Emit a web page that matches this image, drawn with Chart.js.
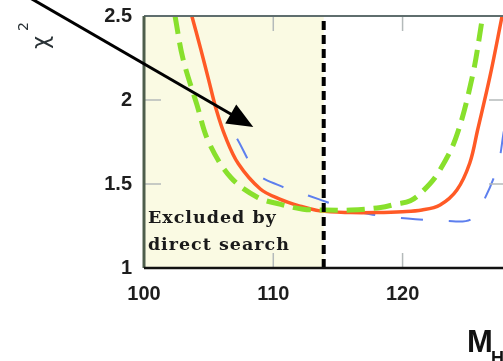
<!DOCTYPE html>
<html>
<head>
<meta charset="utf-8">
<script src="https://cdn.jsdelivr.net/npm/chart.js@4"></script>
<style>
  html, body { margin: 0; padding: 0; background: #fff; overflow: hidden; }
  #wrap { width: 506px; height: 361px; }
</style>
</head>
<body>
<div id="wrap"><canvas id="c"></canvas></div>
<script>
// ---- data ----
const xTickLabels = ["100", "110", "120"];
const yTickLabels = ["1", "1.5", "2", "2.5"];

const orangeMass = [103.7, 104.4, 105.0, 105.6, 106.3, 107.3, 109.0, 110.5, 112.0, 113.6, 116.0, 118.0, 120.0, 121.5, 122.9, 124.2, 125.2, 125.8, 126.76, 127.7];
const orangeChi2 = [2.5, 2.3, 2.12, 1.94, 1.78, 1.62, 1.47, 1.41, 1.37, 1.34, 1.33, 1.33, 1.335, 1.345, 1.375, 1.464, 1.625, 1.82, 2.14, 2.5];

const greenMass = [102.4, 103.0, 104.1, 105.0, 106.7, 108.8, 110.5, 112.3, 114.0, 116.0, 118.3, 119.5, 120.6, 121.6, 122.7, 124.1, 125.4, 126.2];
const greenChi2 = [2.5, 2.25, 1.97, 1.75, 1.54, 1.42, 1.38, 1.35, 1.345, 1.345, 1.36, 1.38, 1.40, 1.46, 1.56, 1.77, 2.14, 2.5];

const blueMass = [107.2, 108.8, 110.5, 112.0, 113.5, 115.4, 117.5, 119.5, 121.0, 123.3, 125.3, 126.4, 127.4, 127.8, 128.2];
const blueChi2 = [1.77, 1.56, 1.49, 1.45, 1.41, 1.36, 1.32, 1.30, 1.29, 1.28, 1.29, 1.42, 1.62, 1.80, 2.0];

const exclusionLimit = 113.9;   // direct search bound
const xRange = [100, 128];
const yRange = [1, 2.5];
const arrowFrom = [91.2, 2.607];
const arrowTo = [108.45, 1.839];
const noteLines = ["Excluded by", "direct search"];
const notePos = [[100.3, 1.27], [100.3, 1.108]];

const pts = (xs, ys) => xs.map((x, i) => ({ x: x, y: ys[i] }));

const shadePlugin = {
  id: 'shade',
  beforeDatasetsDraw(chart) {
    const { ctx, chartArea: a, scales: { x } } = chart;
    const x0 = x.getPixelForValue(xRange[0]);
    const x1 = x.getPixelForValue(exclusionLimit);
    ctx.save();
    ctx.fillStyle = '#fafae3';
    ctx.fillRect(x0, a.top, x1 - x0, a.bottom - a.top);
    ctx.restore();
  }
};

const decoPlugin = {
  id: 'deco',
  afterDatasetsDraw(chart) {
    const { ctx, chartArea: a, scales: { x, y } } = chart;
    ctx.save();
    // inward ticks
    ctx.strokeStyle = '#b4baba';
    ctx.lineWidth = 1.5;
    [1.5, 2].forEach(v => {
      const py = y.getPixelForValue(v);
      ctx.beginPath(); ctx.moveTo(a.left, py); ctx.lineTo(a.left + 17, py); ctx.stroke();
      ctx.beginPath(); ctx.moveTo(a.right, py); ctx.lineTo(a.right - 17, py); ctx.stroke();
    });
    [110, 120].forEach(v => {
      const px = x.getPixelForValue(v);
      ctx.beginPath(); ctx.moveTo(px, a.bottom); ctx.lineTo(px, a.bottom - 15); ctx.stroke();
      ctx.beginPath(); ctx.moveTo(px, a.top); ctx.lineTo(px, a.top + 15); ctx.stroke();
    });
    // frame
    ctx.lineCap = 'butt';
    ctx.strokeStyle = '#5f6e6e'; ctx.lineWidth = 2;
    ctx.beginPath(); ctx.moveTo(a.left, a.top); ctx.lineTo(a.right, a.top); ctx.stroke();
    ctx.strokeStyle = '#4e5e4c'; ctx.lineWidth = 3;
    ctx.beginPath(); ctx.moveTo(a.left, a.top); ctx.lineTo(a.left, a.bottom); ctx.stroke();
    ctx.strokeStyle = '#111'; ctx.lineWidth = 2.5;
    ctx.beginPath(); ctx.moveTo(a.left, a.bottom); ctx.lineTo(a.right, a.bottom); ctx.stroke();

    // note text
    ctx.fillStyle = '#1a1a1a';
    ctx.font = 'bold 17.5px "DejaVu Serif"';
    ctx.letterSpacing = '1px';
    ctx.textAlign = 'left'; ctx.textBaseline = 'alphabetic';
    noteLines.forEach((t, i) => {
      ctx.fillText(t, x.getPixelForValue(notePos[i][0]), y.getPixelForValue(notePos[i][1]));
    });
    ctx.letterSpacing = '0px';

    // arrow
    const fx = x.getPixelForValue(arrowFrom[0]), fy = y.getPixelForValue(arrowFrom[1]);
    const tx = x.getPixelForValue(arrowTo[0]), ty = y.getPixelForValue(arrowTo[1]);
    const ang = Math.atan2(ty - fy, tx - fx);
    const hl = 26, hw = 11;
    const bx = tx - hl * Math.cos(ang), by = ty - hl * Math.sin(ang);
    ctx.strokeStyle = '#000'; ctx.fillStyle = '#000'; ctx.lineWidth = 3;
    ctx.beginPath(); ctx.moveTo(fx, fy); ctx.lineTo(bx + 2 * Math.cos(ang), by + 2 * Math.sin(ang)); ctx.stroke();
    ctx.beginPath();
    ctx.moveTo(tx, ty);
    ctx.lineTo(bx + hw * Math.sin(ang), by - hw * Math.cos(ang));
    ctx.lineTo(bx - hw * Math.sin(ang), by + hw * Math.cos(ang));
    ctx.closePath(); ctx.fill();
    ctx.restore();

    // axis titles
    ctx.save();
    ctx.fillStyle = '#2a3236';
    ctx.translate(48, 49);
    ctx.rotate(-Math.PI / 2);
    ctx.font = '23px "DejaVu Sans"';
    ctx.fillText('χ', 0, 0);
    ctx.font = '14px "DejaVu Sans"';
    ctx.fillText('2', 18, -20);
    ctx.restore();

    ctx.save();
    ctx.fillStyle = '#111';
    ctx.font = 'bold 31px "Liberation Sans"';
    ctx.fillText('M', 467, 352);
    ctx.font = 'bold 18px "Liberation Sans"';
    ctx.fillText('H', 491, 364);
    ctx.restore();
  }
};

new Chart(document.getElementById('c'), {
  type: 'scatter',
  data: {
    datasets: [
      { label: 'limit', data: [{ x: exclusionLimit, y: yRange[0] }, { x: exclusionLimit, y: yRange[1] }],
        showLine: true, borderColor: '#000', borderWidth: 4, borderDash: [9, 5], pointRadius: 0, order: 0 },
      { label: 'green', data: pts(greenMass, greenChi2), showLine: true, borderColor: '#88e02c',
        borderWidth: 5, borderDash: [18, 9], pointRadius: 0, tension: 0.35, order: 1 },
      { label: 'orange', data: pts(orangeMass, orangeChi2), showLine: true, borderColor: '#ff5a26',
        borderWidth: 3.5, pointRadius: 0, tension: 0.35, order: 2 },
      { label: 'blue', data: pts(blueMass, blueChi2), showLine: true, borderColor: '#5d7fee',
        borderWidth: 2, borderDash: [22, 26], pointRadius: 0, tension: 0.35, order: 3 }
    ]
  },
  options: {
    responsive: true,
    maintainAspectRatio: false,
    animation: false,
    events: [],
    layout: { padding: { top: 16, right: 0, left: 0, bottom: 0 } },
    plugins: { legend: { display: false }, tooltip: { enabled: false } },
    scales: {
      x: {
        type: 'linear', min: xRange[0], max: xRange[1],
        afterFit(s) { s.height = 93; s.paddingLeft = 0; s.paddingRight = 0; },
        afterBuildTicks(s) { s.ticks = xTickLabels.map(v => ({ value: Number(v) })); },
        grid: { display: false, drawTicks: false },
        border: { display: false },
        ticks: { padding: 14, color: '#1e1e1e', font: { family: 'Liberation Sans', size: 20, weight: 'bold' },
          maxRotation: 0, callback: (v) => xTickLabels.find(t => Number(t) === v) || '' }
      },
      y: {
        type: 'linear', min: yRange[0], max: yRange[1],
        afterFit(s) { s.width = 144; s.paddingTop = 0; s.paddingBottom = 0; },
        afterBuildTicks(s) { s.ticks = yTickLabels.map(v => ({ value: Number(v) })); },
        grid: { display: false, drawTicks: false },
        border: { display: false },
        ticks: { padding: 12, color: '#1e1e1e', font: { family: 'Liberation Sans', size: 20, weight: 'bold' },
          callback: (v) => yTickLabels.find(t => Number(t) === v) || '' }
      }
    }
  },
  plugins: [shadePlugin, decoPlugin]
});
</script>
</body>
</html>
